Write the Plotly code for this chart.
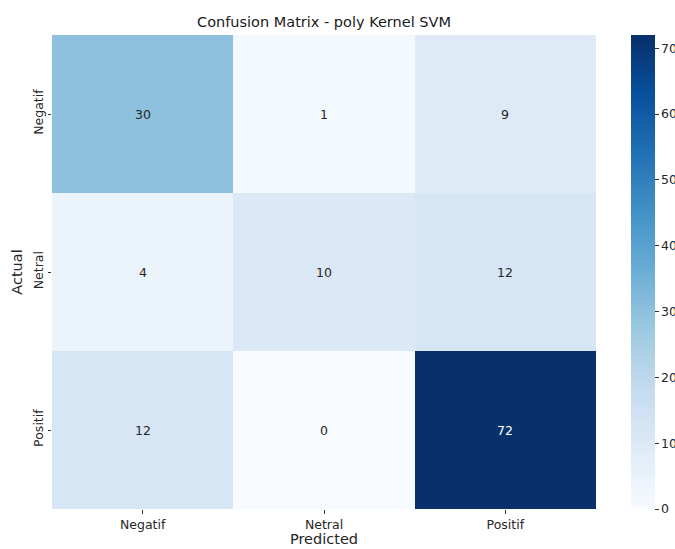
import plotly.graph_objects as go
from plotly.colors import sequential

# Confusion matrix of the polynomial-kernel SVM
labels = ["Negatif", "Netral", "Positif"]
matrix = [
    [30, 1, 9],
    [4, 10, 12],
    [12, 0, 72],
]
colorbar_ticks = [0, 10, 20, 30, 40, 50, 60, 70]

vmax = max(max(r) for r in matrix)
vmin = min(min(r) for r in matrix)

fig = go.Figure(
    go.Heatmap(
        z=matrix,
        x=labels,
        y=labels,
        colorscale=sequential.Blues,
        zmin=vmin,
        zmax=vmax,
        xgap=0,
        ygap=0,
        showscale=True,
        hoverinfo="skip",
        colorbar=dict(
            x=1.064,
            xanchor="left",
            y=0.5,
            yanchor="middle",
            len=1.0,
            lenmode="fraction",
            thickness=24,
            outlinewidth=0,
            ticks="outside",
            ticklen=4,
            tickwidth=1,
            tickcolor="#333",
            tickvals=colorbar_ticks,
            tickfont=dict(size=12.5, color="#262626"),
            xpad=0,
            ypad=0,
        ),
    )
)

# Cell annotations: light text on dark cells
mid = (vmin + vmax) / 2
for i, row in enumerate(matrix):
    for j, v in enumerate(row):
        fig.add_annotation(
            x=labels[j], y=labels[i], text=str(v), showarrow=False,
            font=dict(size=12.5, color="white" if v > mid else "#262626"),
        )

fig.update_layout(
    width=675,
    height=549,
    margin=dict(l=52, r=79, t=35, b=40, autoexpand=False),
    paper_bgcolor="white",
    plot_bgcolor="white",
    font=dict(family="DejaVu Sans", color="#262626"),
    title=dict(
        text="Confusion Matrix - poly Kernel SVM",
        x=(52 + 596) / 2 / 675,
        xanchor="center",
        y=1 - 22 / 549,
        yanchor="middle",
        font=dict(size=14.5, color="#1a1a1a"),
    ),
    xaxis=dict(
        title=dict(text="Predicted", font=dict(size=14.5), standoff=3),
        ticks="outside", ticklen=3.5, tickcolor="#333",
        tickfont=dict(size=12.5), showgrid=False, zeroline=False,
    ),
    yaxis=dict(
        title=dict(text="Actual", font=dict(size=14.5), standoff=4),
        autorange="reversed",
        ticks="outside", ticklen=3.5, tickcolor="#333",
        tickangle=-90,
        tickfont=dict(size=12.5), showgrid=False, zeroline=False,
    ),
)

fig.write_html("out.html")
